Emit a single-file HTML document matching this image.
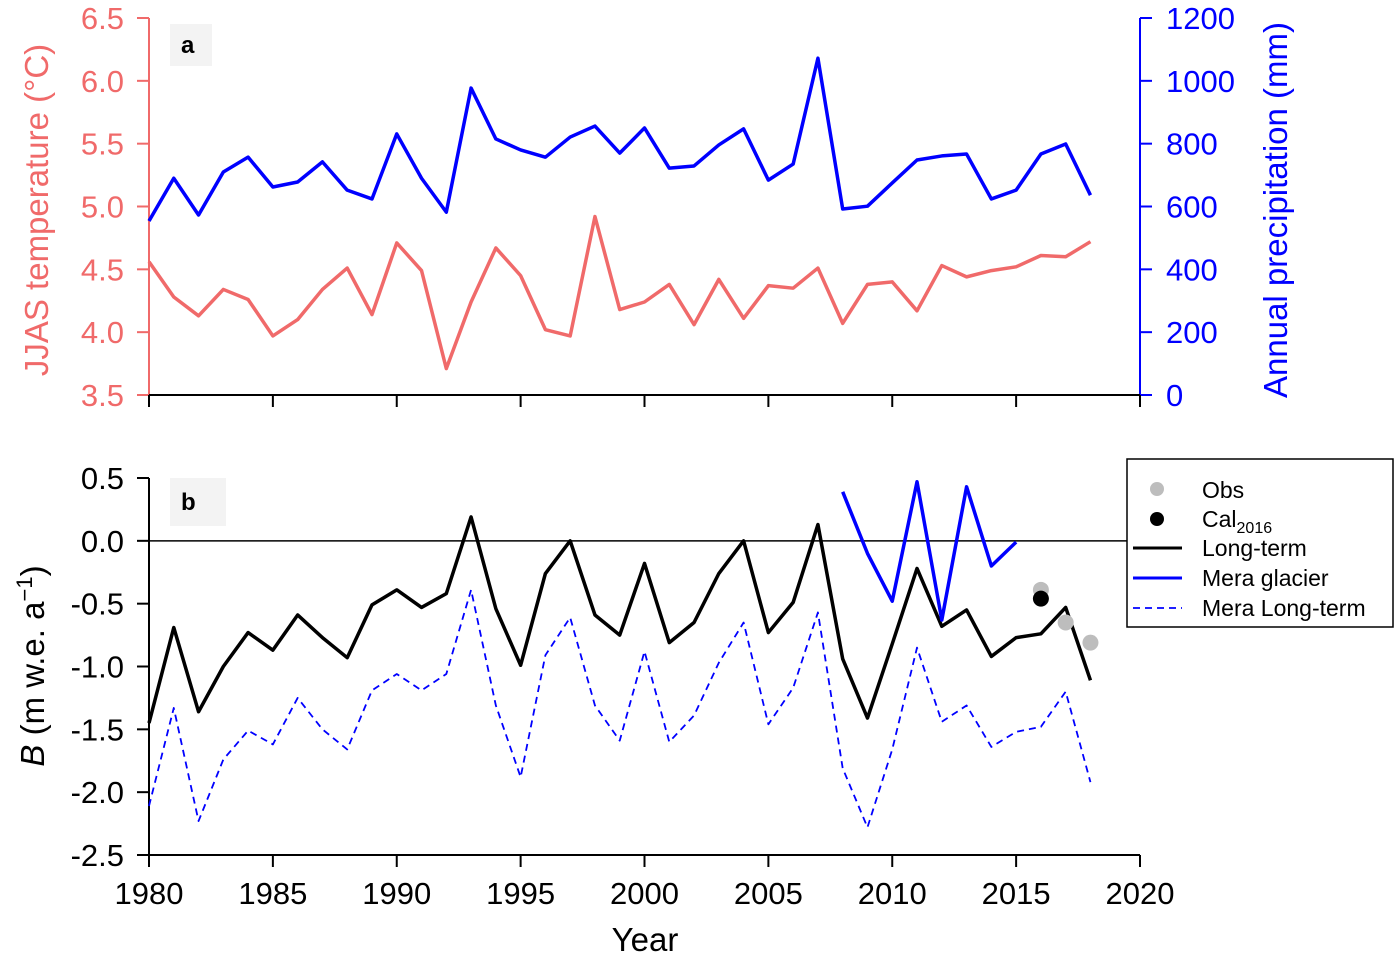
<!DOCTYPE html>
<html><head><meta charset="utf-8"><style>
body{margin:0;background:#fff}
svg{display:block;font-family:"Liberation Sans",Arial,sans-serif}
</style></head><body>
<svg id="chart" width="1400" height="957" viewBox="0 0 1400 957" xmlns="http://www.w3.org/2000/svg">
<g id="pa"></g>
<g id="pb"></g>
</svg>
<script>
const years = [];for(let y=1980;y<=2018;y++)years.push(y);
const precip = [554,690,573,710,757,662,678,742,652,624,831,690,582,977,815,780,757,821,856,770,850,722,729,796,847,684,735,1072,592,601,675,748,761,767,624,652,767,799,636];
const temp = [4.56,4.28,4.13,4.34,4.26,3.97,4.10,4.34,4.51,4.14,4.71,4.49,3.71,4.24,4.67,4.45,4.02,3.97,4.92,4.18,4.24,4.38,4.06,4.42,4.11,4.37,4.35,4.51,4.07,4.38,4.40,4.17,4.53,4.44,4.49,4.52,4.61,4.60,4.72];
const longTerm = [-1.45,-0.69,-1.36,-1.0,-0.73,-0.87,-0.59,-0.77,-0.93,-0.51,-0.39,-0.53,-0.42,0.19,-0.54,-0.99,-0.26,0.0,-0.59,-0.75,-0.18,-0.81,-0.65,-0.26,0.0,-0.73,-0.49,0.13,-0.94,-1.41,-0.82,-0.22,-0.68,-0.55,-0.92,-0.77,-0.74,-0.53,-1.11];
const meraYears = [2008,2009,2010,2011,2012,2013,2014,2015];
const meraGlacier = [0.39,-0.1,-0.48,0.47,-0.63,0.43,-0.2,-0.01];
const meraLong = [-2.11,-1.33,-2.23,-1.74,-1.51,-1.62,-1.25,-1.5,-1.66,-1.19,-1.06,-1.19,-1.06,-0.39,-1.31,-1.88,-0.91,-0.61,-1.31,-1.59,-0.88,-1.6,-1.39,-0.97,-0.65,-1.46,-1.17,-0.57,-1.81,-2.28,-1.66,-0.85,-1.44,-1.31,-1.64,-1.52,-1.48,-1.2,-1.92];
const obsYears = [2016,2017,2018];
const obsVals = [-0.39,-0.65,-0.81];
const calYears = [2016];
const calVals = [-0.46];
const xTicks = [1980,1985,1990,1995,2000,2005,2010,2015,2020];
const tTicks = [3.5,4.0,4.5,5.0,5.5,6.0,6.5];
const pTicks = [0,200,400,600,800,1000,1200];
const bTicks = [-2.5,-2.0,-1.5,-1.0,-0.5,0.0,0.5];

const NS="http://www.w3.org/2000/svg";
const X = y => 149 + (y-1980)*(1140-149)/40;
const YT = v => 395 - (v-3.5)*(377/3);
const YP = v => 395 - v*(377/1200);
const YB = v => 855 - (v+2.5)*(377/3);
function el(parent,tag,attrs,text){const e=document.createElementNS(NS,tag);for(const k in attrs)e.setAttribute(k,attrs[k]);if(text!==undefined)e.textContent=text;parent.appendChild(e);return e;}
const pa=document.getElementById('pa'), pb=document.getElementById('pb');
function poly(g,xs,vs,fy,st,sw,dash,name){const p=el(g,'polyline',{points:xs.map((x,i)=>X(x)+','+fy(vs[i])).join(' '),fill:'none',stroke:st,'stroke-width':sw,'stroke-linejoin':'round'});if(dash)p.setAttribute('stroke-dasharray',dash);

return p;}

let l=el(pa,'line',{x1:149,y1:18,x2:149,y2:395,stroke:'#f06a6a','stroke-width':2});


tTicks.forEach(v=>{el(pa,'line',{x1:137,x2:149,y1:YT(v),y2:YT(v),stroke:'#f06a6a','stroke-width':2});
const t=el(pa,'text',{x:124,y:YT(v)+11,'text-anchor':'end','font-size':31,fill:'#f06a6a'},v.toFixed(1));

});
l=el(pa,'line',{x1:1140,y1:18,x2:1140,y2:395,stroke:'#0000ff','stroke-width':2});


pTicks.forEach(v=>{el(pa,'line',{x1:1140,x2:1152,y1:YP(v),y2:YP(v),stroke:'#0000ff','stroke-width':2});
const t=el(pa,'text',{x:1166,y:YP(v)+11,'font-size':31,fill:'#0000ff'},v);

});
el(pa,'line',{x1:149,y1:395,x2:1140,y2:395,stroke:'#000','stroke-width':2});
xTicks.forEach(v=>el(pa,'line',{x1:X(v),x2:X(v),y1:395,y2:407,stroke:'#000','stroke-width':2}));
let t=el(pa,'text',{transform:'translate(48,210) rotate(-90)','text-anchor':'middle','font-size':33,fill:'#f06a6a'},'JJAS temperature (°C)');


t=el(pa,'text',{transform:'translate(1287,210) rotate(-90)','text-anchor':'middle','font-size':33,fill:'#0000ff'},'Annual precipitation (mm)');


el(pa,'rect',{x:170,y:24,width:42,height:42,fill:'#f3f3f3'});
t=el(pa,'text',{x:181,y:53,'font-size':24,'font-weight':'bold'},'a');


poly(pa,years,precip,YP,'#0000ff',3.5,null,'precipitation-line');
poly(pa,years,temp,YT,'#f06a6a',3.5,null,'temperature-line');

el(pb,'line',{x1:149,y1:478,x2:149,y2:855,stroke:'#000','stroke-width':2});
bTicks.forEach(v=>{el(pb,'line',{x1:137,x2:149,y1:YB(v),y2:YB(v),stroke:'#000','stroke-width':2});
const tt=el(pb,'text',{x:124,y:YB(v)+11,'text-anchor':'end','font-size':31},v.toFixed(1));

});
el(pb,'line',{x1:149,y1:855,x2:1140,y2:855,stroke:'#000','stroke-width':2});
xTicks.forEach(v=>{el(pb,'line',{x1:X(v),x2:X(v),y1:855,y2:867,stroke:'#000','stroke-width':2});
const tt=el(pb,'text',{x:X(v),y:904,'text-anchor':'middle','font-size':31},v);

});
el(pb,'line',{x1:149,x2:1140,y1:YB(0),y2:YB(0),stroke:'#000','stroke-width':1.5});
t=el(pb,'text',{x:645,y:951,'text-anchor':'middle','font-size':33},'Year');


t=el(pb,'text',{transform:'translate(44,666) rotate(-90)','text-anchor':'middle','font-size':33});


t.innerHTML='<tspan font-style="italic">B</tspan> (m w.e. a<tspan baseline-shift="super" font-size="22">−1</tspan>)';
el(pb,'rect',{x:170,y:478,width:56,height:48,fill:'#f3f3f3'});
t=el(pb,'text',{x:181,y:510,'font-size':24,'font-weight':'bold'},'b');


poly(pb,years,meraLong,YB,'#0000ff',1.8,'7,5','mera-long-term-line');
poly(pb,years,longTerm,YB,'#000',3.5,null,'long-term-line');
poly(pb,meraYears,meraGlacier,YB,'#0000ff',3.5,null,'mera-glacier-line');
obsYears.forEach((y,i)=>{const c=el(pb,'circle',{cx:X(y),cy:YB(obsVals[i]),r:8,fill:'#bdbdbd'});

});
calYears.forEach((y,i)=>{const c=el(pb,'circle',{cx:X(y),cy:YB(calVals[i]),r:8,fill:'#000'});

});

const lg=el(pb,'g',{});


el(lg,'rect',{x:1127,y:459,width:266,height:168,fill:'#fff',stroke:'#000','stroke-width':1.5});
el(lg,'circle',{cx:1157,cy:489,r:7,fill:'#bdbdbd'});
el(lg,'text',{x:1202,y:498,'font-size':23},'Obs');
el(lg,'circle',{cx:1157,cy:519,r:7,fill:'#000'});
const ct=el(lg,'text',{x:1202,y:527,'font-size':23});ct.innerHTML='Cal<tspan font-size="16" dy="6">2016</tspan>';
el(lg,'line',{x1:1133,x2:1182,y1:548,y2:548,stroke:'#000','stroke-width':3});
el(lg,'text',{x:1202,y:556,'font-size':23},'Long-term');
el(lg,'line',{x1:1133,x2:1182,y1:578,y2:578,stroke:'#0000ff','stroke-width':3});
el(lg,'text',{x:1202,y:586,'font-size':23},'Mera glacier');
el(lg,'line',{x1:1133,x2:1182,y1:608,y2:608,stroke:'#0000ff','stroke-width':1.8,'stroke-dasharray':'7,5'});
el(lg,'text',{x:1202,y:616,'font-size':23},'Mera Long-term');
</script>
</body></html>
